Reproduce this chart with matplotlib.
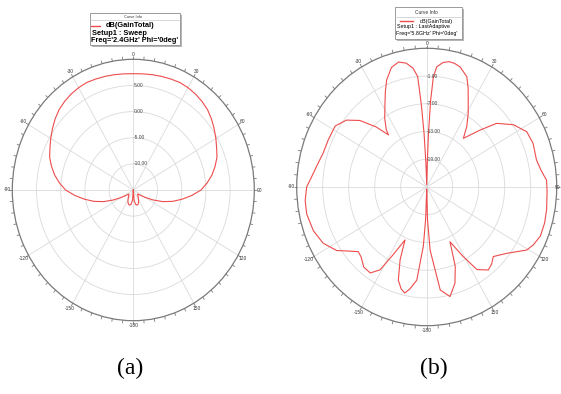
import numpy as np
import matplotlib
matplotlib.use("Agg")
import matplotlib.pyplot as plt
from matplotlib.patches import Rectangle
from matplotlib.lines import Line2D

# ---------------- data ----------------
theta_a = [-180, -175, -170, -165, -160, -155, -150, -145, -140, -135, -130, -125, -120,
           -115, -110, -105, -100, -95, -90, -85, -80, -75, -70, -65, -60, -55, -50, -45,
           -40, -35, -30, -25, -20, -15, -10, -5, 0, 5, 10, 15, 20, 25, 30, 35, 40, 45,
           50, 55, 60, 65, 70, 75, 80, 85, 90, 95, 100, 105, 110, 115, 120, 125, 130,
           135, 140, 145, 150, 155, 160, 165, 170, 175, 180]
gain_a = [-15.0, -13.0, -12.2, -12.0, -12.1, -12.4, -12.8, -13.2, -13.5, -13.7, -13.8, -13.3, -12.2,
          -10.5, -8.5, -6.6, -4.8, -2.9, -1.0, 0.3, 1.5, 2.5, 3.4, 4.0, 4.7, 5.4, 6.1, 6.7,
          7.1, 7.4, 7.6, 7.7, 7.6, 7.5, 7.4, 7.3, 7.25, 7.3, 7.4, 7.5, 7.6, 7.7, 7.6, 7.4, 7.1, 6.7,
          6.1, 5.4, 4.7, 4.0, 3.4, 2.5, 1.5, 0.3, -1.0, -2.9, -4.8, -6.6, -8.5, -10.5, -12.2, -13.3, -13.8,
          -13.7, -13.5, -13.2, -12.8, -12.4, -12.1, -12.0, -12.2, -13.0, -15.0]

theta_b = [-180, -178, -176.5, -173.5, -170, -167.5, -165, -162, -158.7, -156.4, -152, -149,
           -145, -140, -135, -131.5, -127, -123.5, -117, -110, -102, -96, -90, -85, -80, -73,
           -66, -58, -52, -47, -42, -38, -37, -33, -29, -25, -21.8, -17.5, -13.5, -10, -7, -5,
           -4, -3, -2, 0, 1.5, 2.0, 2.8, 3.7, 5.1, 8, 10.8, 13.5, 16.5, 21.2, 24, 27, 31, 35.3,
           38.8, 45, 49.5, 56, 62.6, 69, 77, 82, 87, 92, 100, 106, 112, 117, 120.6, 127.8,
           134.4, 138, 141.6, 147, 151, 155.6, 159, 162.6, 167.2, 172, 176.7, 178.5, 180]
gain_b = [-24.5, -18.0, -12.1, -4.7, -2.6, -1.5, -2.2, -3.8, -8.1, -12.5, -8.3, -4.1,
          -2.3, -2.4, -3.6, -3.9, -2.0, -0.1, 1.8, 2.8, 3.3, 3.2, 2.7, 1.6, 0.8, 0.0,
          -0.1, -0.1, -1.5, -3.9, -7.5, -10.7, -9.5, -7.2, -5.1, -2.4, -0.1, 2.1, 2.8, 2.2, 0.9, -1.0,
          -7.0, -13.4, -20.0, -24.5, -20.0, -13.4, -6.1, -1.1, 1.1, 2.2, 2.6, 2.5, 2.1, 0.6, -1.5, -3.9, -6.4, -9.0,
          -11.5, -7.6, -3.8, -0.9, 1.0, 1.3, 1.0, 1.6, 2.7, 2.8, 3.1, 3.3, 3.3, 2.6, 1.8, -1.6,
          -3.5, -2.6, -2.1, -3.7, -8.0, -12.0, -6.6, -3.2, -0.7, -2.5, -11.3, -18.0, -24.5]

rlim_a = (-15, 10)
rings_a = [-10, -5, 0, 5]
rlim_b = (-25, 5)
rings_b = [-19, -13, -7, -1]

angle_ticks = [0, 30, 60, 90, 120, 150, 180, -150, -120, -90, -60, -30]
angle_labels = ["0", "30", "60", "90", "120", "150", "-180", "-150", "-120", "-90", "-60", "-30"]

legend_a = ["dB(GainTotal)", "Setup1 : Sweep", "Freq='2.4GHz' Phi='0deg'"]
legend_b = ["dB(GainTotal)", "Setup1 : LastAdaptive", "Freq='5.8GHz' Phi='0deg'"]
captions = ["(a)", "(b)"]

# ---------------- figure ----------------
W, H = 561, 394
fig = plt.figure(figsize=(W / 100, H / 100), dpi=100)
plt.rcParams['font.family'] = ['Liberation Sans', 'DejaVu Sans']


def fx(x):
    return x / W


def fy(y):
    return 1 - y / H


LINE_COLOR = '#ee4c4c'
GRID_COLOR = '#dadada'
EDGE_COLOR = '#7a7a7a'


def make_polar(rect, theta, gain, rlim, rings, ring_fmt, edge_label=None):
    ax = fig.add_axes(rect, projection='polar')
    ax.set_aspect('auto')
    ax.set_theta_zero_location('N')
    ax.set_theta_direction(-1)
    ax.set_ylim(*rlim)
    ax.set_yticks(rings)
    ax.set_yticklabels([])
    ax.set_xticks(np.deg2rad(np.arange(0, 360, 30)))
    ax.set_xticklabels([])
    ax.tick_params(axis='x', length=0)
    ax.grid(True, color=GRID_COLOR, lw=0.6)
    ax.spines['polar'].set_color(EDGE_COLOR)
    ax.spines['polar'].set_linewidth(0.9)
    ax.patch.set_alpha(0)
    span = rlim[1] - rlim[0]
    # tick marks every 5 deg
    for a in range(0, 360, 5):
        t = np.deg2rad(a)
        ax.plot([t, t], [rlim[1], rlim[1] + 0.024 * span], color=EDGE_COLOR,
                lw=0.6, clip_on=False, solid_capstyle='butt')
    # angle labels
    for a, lab in zip(angle_ticks, angle_labels):
        if edge_label is not None and a == edge_label[0]:
            fig.text(fx(edge_label[1]), fy(edge_label[2]), lab, ha='right', va='center',
                     fontsize=3.5, color='#333333')
            continue
        f = 0.045 if a % 180 else 0.035
        ax.text(np.deg2rad(a), rlim[1] + f * span, lab, ha='center', va='center',
                fontsize=3.5, color='#333333', clip_on=False)
    # ring labels
    for r in rings:
        ax.text(0, r, ring_fmt.format(r), ha='left', va='center', fontsize=3.5,
                color='#444444')
    ax.plot(np.deg2rad(theta), gain, color=LINE_COLOR, lw=0.8)
    return ax


ax1 = make_polar([fx(12.3), fy(320.7), 242 / W, 261.4 / H], theta_a, gain_a, rlim_a, rings_a, "{:.2f}")
ax2 = make_polar([fx(296.7), fy(325.7), 260 / W, 277.4 / H], theta_b, gain_b, rlim_b, rings_b, "{:.2f}",
                 edge_label=(90, 560.3, 187.5))


def legend_box(x0, y0, x1, y1, sep_y, header_y, line_x, line_y, text_x, rows_x, rows_y,
               lines, fs, hfs, weight):
    # shadow
    fig.patches.append(Rectangle((fx(x0 + 2), fy(y1 + 2)), (x1 - x0) / W, (y1 - y0) / H,
                                 transform=fig.transFigure, facecolor='#b5b5b5',
                                 edgecolor='none', zorder=5))
    fig.patches.append(Rectangle((fx(x0), fy(y1)), (x1 - x0) / W, (y1 - y0) / H,
                                 transform=fig.transFigure, facecolor='white',
                                 edgecolor='#9a9a9a', lw=0.7, zorder=6))
    fig.lines.append(Line2D([fx(x0), fx(x1)], [fy(sep_y), fy(sep_y)], transform=fig.transFigure,
                            color='#c8c8c8', lw=0.5, zorder=7))
    fig.text(fx((x0 + x1) / 2 - 2), fy(header_y), "Curve Info", ha='center', va='center',
             fontsize=hfs, color='#333333', zorder=8)
    fig.lines.append(Line2D([fx(line_x[0]), fx(line_x[1])], [fy(line_y), fy(line_y)],
                            transform=fig.transFigure, color=LINE_COLOR, lw=1.0, zorder=8))
    fig.text(fx(text_x), fy(line_y), lines[0], ha='left', va='center', fontsize=fs,
             fontweight=weight, color='black', zorder=8)
    for rx, ry, t in zip(rows_x, rows_y, lines[1:]):
        fig.text(fx(rx), fy(ry), t, ha='left', va='center', fontsize=fs,
                 fontweight=weight, color='black', zorder=8)


legend_box(90, 13.3, 180, 45, 20, 16.7, (91, 100), 25.7, 105.7, [91.5, 91], [33.3, 40.7],
           legend_a, 5.3, 2.8, 'bold')
legend_box(395, 6.7, 461.7, 39.3, 16.7, 12.3, (400, 413.3), 21, 420, [396.7, 396], [26.7, 33],
           legend_b, 3.9, 3.5, 'normal')

fig.text(fx(130), fy(368), captions[0], ha='center', va='center', fontsize=17,
         family='Liberation Serif')
fig.text(fx(434), fy(368), captions[1], ha='center', va='center', fontsize=17,
         family='Liberation Serif')

fig.savefig("out.png", dpi=100, facecolor='white')
